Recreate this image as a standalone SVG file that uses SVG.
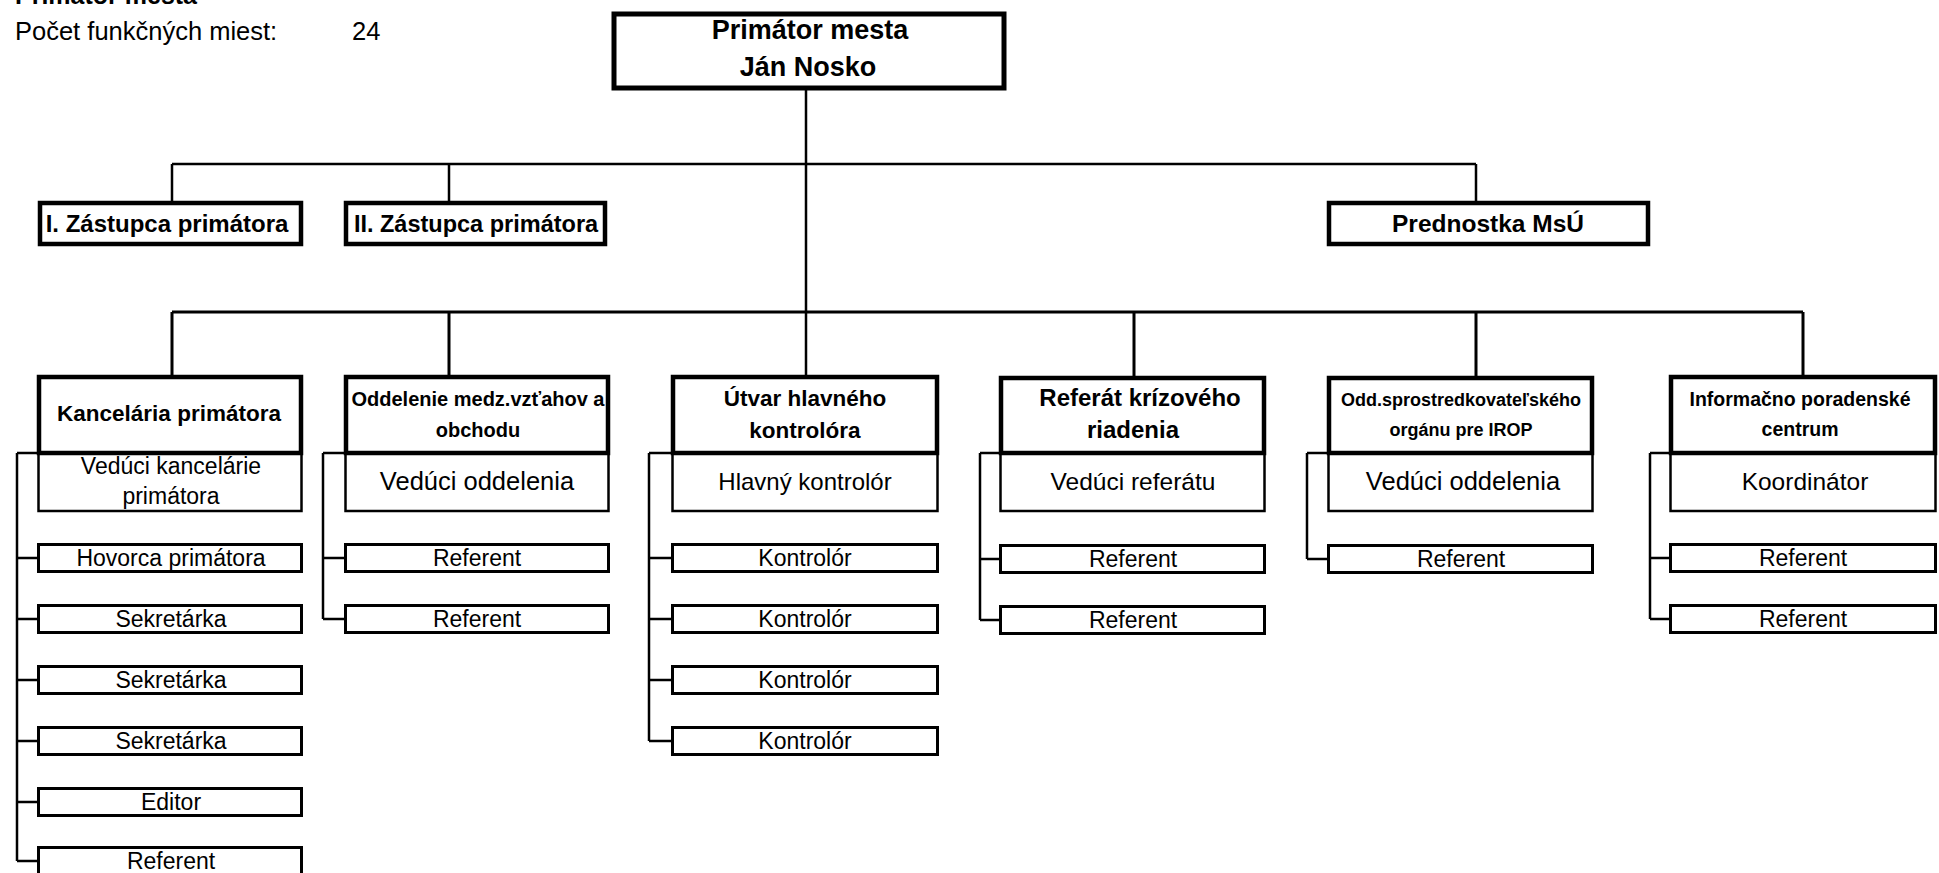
<svg xmlns="http://www.w3.org/2000/svg" width="1939" height="873" viewBox="0 0 1939 873">
<style>
.bg{fill:#fff}
.top{fill:#fff;stroke:#000;stroke-width:5}
.hdr{fill:#fff;stroke:#000;stroke-width:4.5}
.sub{fill:#fff;stroke:#000;stroke-width:2.5}
.sm{fill:#fff;stroke:#000;stroke-width:3}
.conn{fill:none;stroke:#000;stroke-width:2.5}
text{font-family:"Liberation Sans",Arial,sans-serif;fill:#000}
.b{font-weight:bold;text-anchor:middle}
.r{text-anchor:middle}
</style>
<rect class="bg" x="0" y="0" width="1939" height="873"/>

<g id="info">
<text x="15" y="4" font-size="25" font-weight="bold">Primátor mesta</text>
<text x="15" y="40" font-size="25.5">Počet funkčných miest:</text>
<text x="352" y="40" font-size="25.5">24</text>
</g>

<g id="connectors">
<path class="conn" d="M806,89 V377"/>
<path class="conn" d="M172,164 H1476 M172,164 V202 M449,164 V202 M1476,164 V202"/>
<path class="conn" style="stroke-width:3" d="M172,312 H1803 M172,312 V377 M449,312 V377 M1134,312 V377 M1476,312 V377 M1803,312 V377"/>
<path class="conn" d="M17,453 H39 M17,453 V861 M17,558 H38 M17,619 H38 M17,680 H38 M17,741 H38 M17,802 H38 M17,861 H38"/>
<path class="conn" d="M323,453 H346 M323,453 V619 M323,558 H345 M323,619 H345"/>
<path class="conn" d="M649,453 H673 M649,453 V741 M649,558 H672 M649,619 H672 M649,680 H672 M649,741 H672"/>
<path class="conn" d="M980,453 H1001 M980,453 V620 M980,559 H1000 M980,620 H1000"/>
<path class="conn" d="M1307,453 H1329 M1307,453 V559 M1307,559 H1328"/>
<path class="conn" d="M1650,453 H1671 M1650,453 V619 M1650,558 H1670 M1650,619 H1670"/>
</g>

<g id="primator">
<rect class="top" x="614" y="14" width="390" height="74"/>
<text class="b" x="810" y="39" font-size="27">Primátor mesta</text>
<text class="b" x="808" y="76" font-size="27">Ján Nosko</text>
</g>

<g id="zastupca1">
<rect class="hdr" x="40" y="203" width="261" height="41"/>
<text class="b" x="167" y="232" font-size="24">I. Zástupca primátora</text>
</g>
<g id="zastupca2">
<rect class="hdr" x="346" y="203" width="259" height="41"/>
<text class="b" x="476" y="232" font-size="23.5">II. Zástupca primátora</text>
</g>
<g id="prednostka">
<rect class="hdr" x="1329" y="203" width="319" height="41"/>
<text class="b" x="1488" y="232" font-size="24.5">Prednostka MsÚ</text>
</g>

<g id="kancelaria">
<rect class="sub" x="38.5" y="453" width="263" height="58"/>
<rect class="hdr" x="39" y="377" width="262" height="76"/>
<text class="b" x="169" y="421" font-size="22.5">Kancelária primátora</text>
<text class="r" x="171" y="474" font-size="23">Vedúci kancelárie</text>
<text class="r" x="171" y="504" font-size="23">primátora</text>
</g>
<g id="k-hovorca"><rect class="sm" x="38.5" y="544.5" width="263" height="27"/><text class="r" x="171" y="566" font-size="23">Hovorca primátora</text></g>
<g id="k-sekretarka1"><rect class="sm" x="38.5" y="605.5" width="263" height="27"/><text class="r" x="171" y="627" font-size="23">Sekretárka</text></g>
<g id="k-sekretarka2"><rect class="sm" x="38.5" y="666.5" width="263" height="27"/><text class="r" x="171" y="688" font-size="23">Sekretárka</text></g>
<g id="k-sekretarka3"><rect class="sm" x="38.5" y="727.5" width="263" height="27"/><text class="r" x="171" y="749" font-size="23">Sekretárka</text></g>
<g id="k-editor"><rect class="sm" x="38.5" y="788.5" width="263" height="27"/><text class="r" x="171" y="810" font-size="23">Editor</text></g>
<g id="k-referent"><rect class="sm" x="38.5" y="847.5" width="263" height="30"/><text class="r" x="171" y="869" font-size="23">Referent</text></g>

<g id="oddelenie">
<rect class="sub" x="345.5" y="453" width="263" height="58"/>
<rect class="hdr" x="346" y="377" width="262" height="76"/>
<text class="b" x="478" y="406" font-size="20">Oddelenie medz.vzťahov a</text>
<text class="b" x="478" y="437" font-size="20">obchodu</text>
<text class="r" x="477" y="490" font-size="25.5">Vedúci oddelenia</text>
</g>
<g id="o-referent1"><rect class="sm" x="345.5" y="544.5" width="263" height="27"/><text class="r" x="477" y="566" font-size="23">Referent</text></g>
<g id="o-referent2"><rect class="sm" x="345.5" y="605.5" width="263" height="27"/><text class="r" x="477" y="627" font-size="23">Referent</text></g>

<g id="utvar">
<rect class="sub" x="672.5" y="453" width="265" height="58"/>
<rect class="hdr" x="673" y="377" width="264" height="76"/>
<text class="b" x="805" y="406" font-size="22.5">Útvar hlavného</text>
<text class="b" x="805" y="438" font-size="22.5">kontrolóra</text>
<text class="r" x="805" y="490" font-size="24">Hlavný kontrolór</text>
</g>
<g id="u-kontrolor1"><rect class="sm" x="672.5" y="544.5" width="265" height="27"/><text class="r" x="805" y="566" font-size="23">Kontrolór</text></g>
<g id="u-kontrolor2"><rect class="sm" x="672.5" y="605.5" width="265" height="27"/><text class="r" x="805" y="627" font-size="23">Kontrolór</text></g>
<g id="u-kontrolor3"><rect class="sm" x="672.5" y="666.5" width="265" height="27"/><text class="r" x="805" y="688" font-size="23">Kontrolór</text></g>
<g id="u-kontrolor4"><rect class="sm" x="672.5" y="727.5" width="265" height="27"/><text class="r" x="805" y="749" font-size="23">Kontrolór</text></g>

<g id="referat">
<rect class="sub" x="1000.5" y="453" width="264" height="58"/>
<rect class="hdr" x="1001" y="378" width="263" height="75"/>
<text class="b" x="1140" y="406" font-size="24">Referát krízového</text>
<text class="b" x="1133" y="438" font-size="24">riadenia</text>
<text class="r" x="1133" y="490" font-size="24.5">Vedúci referátu</text>
</g>
<g id="r-referent1"><rect class="sm" x="1000.5" y="545.5" width="264" height="27"/><text class="r" x="1133" y="567" font-size="23">Referent</text></g>
<g id="r-referent2"><rect class="sm" x="1000.5" y="606.5" width="264" height="27"/><text class="r" x="1133" y="628" font-size="23">Referent</text></g>

<g id="irop">
<rect class="sub" x="1328.5" y="453" width="264" height="58"/>
<rect class="hdr" x="1329" y="378" width="263" height="75"/>
<text class="b" x="1461" y="406" font-size="18">Odd.sprostredkovateľského</text>
<text class="b" x="1461" y="436" font-size="18">orgánu pre IROP</text>
<text class="r" x="1463" y="490" font-size="25.5">Vedúci oddelenia</text>
</g>
<g id="i-referent1"><rect class="sm" x="1328.5" y="545.5" width="264" height="27"/><text class="r" x="1461" y="567" font-size="23">Referent</text></g>

<g id="informacno">
<rect class="sub" x="1670.5" y="453" width="265" height="58"/>
<rect class="hdr" x="1671" y="377" width="264" height="76"/>
<text class="b" x="1800" y="406" font-size="19.5">Informačno poradenské</text>
<text class="b" x="1800" y="436" font-size="19.5">centrum</text>
<text class="r" x="1805" y="490" font-size="24.5">Koordinátor</text>
</g>
<g id="c-referent1"><rect class="sm" x="1670.5" y="544.5" width="265" height="27"/><text class="r" x="1803" y="566" font-size="23">Referent</text></g>
<g id="c-referent2"><rect class="sm" x="1670.5" y="605.5" width="265" height="27"/><text class="r" x="1803" y="627" font-size="23">Referent</text></g>
</svg>
